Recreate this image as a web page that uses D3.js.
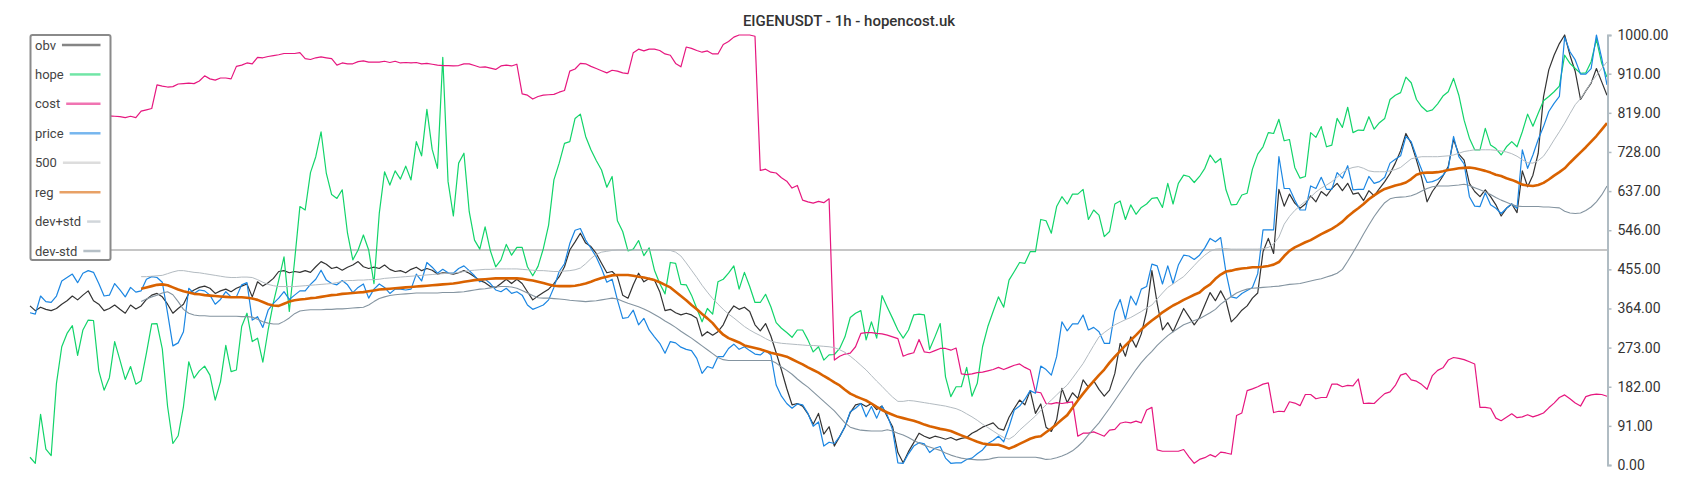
<!DOCTYPE html>
<html><head><meta charset="utf-8">
<script src="https://cdn.jsdelivr.net/npm/d3@7"></script>
<style>
body{margin:0;background:#fff;}
svg{display:block;font-family:Roboto,"Noto Sans",sans-serif;}
</style>
</head><body>
<svg id="chart" width="1700" height="500"></svg>
<script>
const title = "EIGENUSDT - 1h - hopencost.uk";
const seriesNames = ["obv","hope","cost","price","500","reg","dev+std","dev-std"];
const seriesColors = ["#333333","#12d46a","#e6177f","#1b86e2","#c6c6c6","#d96200","#b3bbc1","#8494a0"];
const tickValues = [0,91,182,273,364,455,546,637,728,819,910,1000];

const obv = [
370,359,367,362,359,364,374,382,393,384,
395,405,382,374,359,364,372,362,353,372,
363,370,385,395,399,391,374,353,364,374,
399,407,413,416,411,399,405,409,403,411,
416,421,391,426,416,424,434,450,452,447,
450,448,452,448,461,473,467,457,460,453,
460,465,473,461,457,460,457,465,455,450,
452,447,455,460,452,457,453,444,447,446,
444,447,452,446,438,429,424,415,413,422,
432,422,432,422,403,384,393,401,409,422,
438,461,500,519,539,516,508,492,469,447,
450,438,395,388,419,446,426,434,430,403,
359,362,354,349,353,349,341,300,310,302,
310,326,353,370,362,367,357,326,312,329,
300,261,221,178,140,143,137,119,95,120,
72,89,44,66,89,122,140,143,136,143,
129,137,112,89,29,5,31,52,74,67,
62,67,64,60,64,58,62,64,74,80,
88,93,98,85,81,111,132,151,140,173,
120,142,88,78,105,178,145,168,155,198,
181,196,176,160,174,213,283,253,298,274,
305,357,452,376,314,331,310,337,364,345,
326,343,372,401,382,405,382,333,345,360,
370,388,400,496,527,492,641,602,630,609,
597,607,626,612,636,626,643,655,638,655,
630,633,615,638,626,643,659,678,702,731,
771,748,709,667,612,636,653,672,694,757,
723,709,655,636,624,640,624,605,579,597,
607,587,684,647,674,725,856,919,953,980,
1000,953,915,850,870,888,922,891,860];

const hope = [
18,4,118,37,22,190,275,306,324,255,
314,337,336,219,174,203,287,244,199,229,
188,196,260,328,329,270,136,50,68,136,
240,202,219,230,209,151,194,278,217,221,
322,353,287,295,239,314,378,430,484,357,
475,601,593,680,717,775,678,629,620,640,
539,477,500,535,500,422,585,682,651,684,
665,695,663,752,719,827,734,690,948,659,
579,702,725,589,523,502,554,498,461,477,
513,488,506,506,461,440,462,503,558,663,
702,748,752,806,816,764,733,708,686,646,
671,568,543,498,502,522,487,505,453,422,
398,471,469,420,419,395,364,333,364,351,
426,432,446,463,409,448,415,378,378,397,
368,331,318,308,297,314,314,291,263,275,
244,256,257,271,298,343,353,359,291,333,
295,394,367,341,314,295,314,349,351,349,
269,298,329,205,159,182,182,227,160,190,
275,322,357,391,367,430,450,471,469,496,
496,571,568,539,601,624,607,630,630,641,
571,593,581,531,543,607,614,571,605,583,
599,607,620,622,599,655,607,655,674,671,
657,671,690,721,703,713,640,605,606,628,
632,688,723,740,773,771,804,754,757,692,
667,671,773,762,787,740,744,806,785,832,
773,779,778,810,781,796,806,850,860,866,
902,889,850,833,822,826,840,858,868,899,
860,802,760,733,733,783,744,736,721,740,
752,740,775,816,788,818,847,857,868,881,
953,934,922,911,912,938,990,934,902];

const cost = [
810,812,809,811,808,810,813,811,809,812,
810,808,811,813,810,812,811,810,808,811,
808,823,826,829,884,881,879,880,886,887,
888,887,893,905,898,895,900,900,898,927,
930,935,933,948,947,950,952,954,957,957,
957,959,945,943,947,949,947,945,930,935,
933,933,938,940,937,937,937,939,936,939,
935,936,935,936,933,934,932,930,929,929,
928,929,933,933,929,925,926,923,920,928,
930,928,932,863,860,851,857,860,861,862,
867,871,916,921,934,933,927,922,917,912,
918,916,912,910,959,967,963,967,967,964,
956,953,934,926,972,969,964,960,963,956,
956,978,985,995,1000,1000,1000,997,685,688,
681,679,668,660,644,650,616,612,609,613,
610,619,244,253,258,260,275,306,308,308,
306,305,302,298,294,253,258,261,292,263,
261,266,271,271,267,272,212,210,212,215,
216,219,222,227,222,227,232,235,227,221,
170,168,143,142,145,143,145,147,67,74,
74,77,72,67,81,83,97,100,98,102,
98,128,134,35,32,32,32,32,36,19,
4,13,17,24,19,30,28,25,115,121,
173,177,182,188,191,122,125,124,147,144,
138,164,164,154,157,157,188,188,182,185,
184,200,143,144,143,155,166,170,185,209,
213,198,195,187,176,208,220,226,244,250,
248,245,240,235,134,134,132,109,103,111,
119,110,112,117,112,116,121,133,144,157,
163,154,144,137,159,163,165,164,160];

const price = [
354,351,393,380,378,393,428,436,444,424,
446,452,448,422,393,395,422,407,391,413,
402,405,432,438,436,425,353,277,284,310,
411,399,407,405,395,374,385,403,391,391,
419,424,337,345,320,360,376,388,403,385,
395,405,405,420,432,453,430,422,419,429,
419,401,413,421,388,409,421,413,399,409,
409,407,409,444,428,471,460,446,455,447,
446,457,463,452,440,426,432,422,407,403,
411,399,403,395,372,362,367,372,384,413,
450,468,515,546,550,523,504,484,457,425,
432,384,341,343,360,326,341,314,298,283,
260,287,284,274,269,266,248,213,229,225,
252,252,271,281,269,275,266,258,256,266,
256,186,160,143,132,142,140,120,90,100,
44,53,50,66,89,124,132,143,112,136,
109,137,116,81,5,4,26,44,52,49,
29,39,43,16,4,5,5,13,16,26,
35,50,57,67,54,89,128,137,153,173,
167,230,222,209,252,333,312,328,328,349,
314,320,310,283,283,357,385,339,393,372,
409,415,467,463,421,463,422,465,488,486,
478,488,505,527,519,529,448,391,388,399,
406,413,445,547,547,547,717,643,643,616,
593,593,649,643,669,641,641,680,667,696,
640,641,641,671,655,659,669,702,711,719,
764,752,717,686,657,659,664,674,690,764,
717,700,624,602,601,633,605,597,585,597,
607,597,733,690,721,757,787,822,841,857,
995,961,942,909,909,922,1000,946,884];

const level500 = [500];

// reg / dev bands begin at this point index
const bandStart = 21;

const reg = [
410,413,416,419,420,418,413,408,404,401,
398,397,395,394,393,392,391,390,390,390,
389,387,384,379,374,371,370,375,380,383,
385,386,388,389,391,393,395,396,398,399,
400,401,402,404,406,408,409,410,411,412,
413,414,415,416,417,418,419,420,421,422,
424,426,428,430,431,432,433,434,434,434,
434,434,433,431,429,426,423,420,417,416,
416,416,417,419,422,426,431,435,438,441,
442,442,442,440,438,436,433,430,425,419,
413,403,393,383,372,362,351,341,330,315,
303,295,290,285,278,275,272,269,265,261,
258,255,252,246,240,234,227,221,215,207,
200,192,185,175,166,160,155,150,143,135,
128,122,117,112,109,106,103,99,94,90,
87,84,82,79,74,69,64,59,54,50,
48,47,47,43,38,43,49,55,61,65,
67,76,85,95,106,116,133,150,166,181,
195,209,222,238,252,265,278,290,302,315,
326,336,345,355,363,371,377,384,390,396,
401,412,420,433,443,450,452,455,457,458,
460,460,461,463,466,472,486,498,506,512,
518,523,530,537,543,549,557,566,578,588,
597,607,618,627,635,642,646,650,653,657,
665,675,679,680,680,681,683,686,688,690,
691,692,690,687,684,680,675,672,667,663,
658,652,650,649,651,656,664,673,681,690,
703,715,727,739,752,765,780,795];

const devPlus = [
438,438,439,440,441,445,449,452,452,450,
448,447,445,443,441,439,437,436,436,437,
437,436,431,425,420,417,415,415,415,415,
416,417,418,419,420,421,422,424,427,429,
429,430,430,431,431,432,434,435,436,437,
438,439,440,441,442,443,444,445,446,446,
448,450,452,453,454,455,455,456,456,456,
456,456,455,454,453,452,452,451,450,450,
451,452,454,458,468,480,490,495,497,499,
500,500,500,500,500,500,500,500,500,500,
499,495,486,470,453,436,418,402,387,374,
362,351,342,332,322,314,307,301,294,288,
285,283,282,281,280,279,278,278,277,276,
275,273,268,262,253,243,232,221,208,195,
183,170,158,148,148,150,149,147,145,143,
141,139,137,134,131,126,119,112,104,95,
87,79,71,64,60,68,81,92,103,114,
127,140,151,163,175,186,202,219,236,257,
278,298,308,317,326,332,338,343,350,357,
365,372,386,400,413,421,430,438,451,464,
477,488,497,502,503,503,502,502,502,502,
502,502,503,506,514,530,560,578,592,603,
613,623,635,644,651,659,669,680,688,692,
694,690,684,682,682,682,684,687,692,702,
712,715,717,717,717,717,718,719,721,725,
729,731,733,733,733,733,732,730,728,724,
718,710,703,702,708,718,736,756,775,795,
817,838,852,870,890,906,922,938];

const devMinus = [
380,386,391,395,400,403,396,380,362,353,
349,347,347,346,346,346,346,346,346,345,
345,344,339,333,330,328,328,334,342,352,
358,360,361,361,361,362,362,363,363,364,
365,366,367,372,380,387,391,394,396,397,
398,399,400,400,400,400,400,401,401,401,
402,403,405,407,409,410,412,414,415,415,
414,411,406,400,394,389,388,388,387,386,
385,383,382,381,380,381,382,384,386,388,
386,381,376,372,368,363,357,350,343,335,
328,320,311,303,295,286,277,268,259,250,
245,243,243,243,243,243,243,243,243,243,
237,228,220,211,200,190,181,170,159,148,
137,126,112,98,88,84,81,80,79,79,
79,82,79,74,70,64,57,51,46,42,
38,34,28,23,19,16,14,13,12,12,
13,16,18,18,18,18,18,18,18,18,
16,13,14,17,21,26,33,43,55,70,
84,98,115,132,150,168,186,204,222,238,
252,264,278,290,301,310,318,326,331,336,
340,347,354,362,374,383,392,400,405,409,
411,412,413,414,415,416,418,420,421,422,
425,428,431,433,437,441,446,455,474,494,
515,537,558,578,595,610,619,622,623,624,
626,631,637,643,647,649,649,649,650,651,
653,650,645,640,635,629,622,616,611,606,
602,601,601,601,601,600,600,599,598,590,
586,585,586,592,600,612,628,649];

const svg = d3.select("#chart");
const N = obv.length;
const x = d3.scaleLinear().domain([0, N - 1]).range([30, 1607]);
const y = d3.scaleLinear().domain([0, 1000]).range([465, 35]);

const fullLine = d3.line().x((d, i) => x(i)).y(d => y(d));
const bandLine = d3.line().x((d, i) => x(i + bandStart)).y(d => y(d));

const plot = svg.append("g");
const widths = [1.2, 1.2, 1.2, 1.2, 2, 2.6, 1, 1.1];

// 500 reference line
plot.append("line")
  .attr("x1", x(0)).attr("x2", x(N - 1))
  .attr("y1", y(level500[0])).attr("y2", y(level500[0]))
  .attr("stroke", seriesColors[4]).attr("stroke-width", widths[4]);

const drawn = [
  [obv, fullLine, 0], [hope, fullLine, 1], [cost, fullLine, 2], [price, fullLine, 3],
  [reg, bandLine, 5], [devPlus, bandLine, 6], [devMinus, bandLine, 7]
];
drawn.forEach(([data, gen, k]) => {
  plot.append("path").datum(data)
    .attr("d", gen)
    .attr("fill", "none")
    .attr("stroke", seriesColors[k])
    .attr("stroke-width", widths[k])
    .attr("stroke-linejoin", "round");
});

// right axis
const axis = svg.append("g")
  .attr("transform", "translate(1607.5,0)")
  .call(d3.axisRight(y).tickValues(tickValues).tickFormat(d3.format(".2f")).tickSize(4).tickPadding(6));
axis.select(".domain").attr("stroke", "#b0bcc3").attr("stroke-width", 2);
axis.selectAll(".tick line").attr("stroke", "#b0bcc3").attr("stroke-width", 1.5);
axis.selectAll(".tick text").attr("fill", "#333").style("font-size", "14px").style("font-family", "Roboto");

// title
svg.append("text").attr("x", 849).attr("y", 26).attr("text-anchor", "middle")
  .style("font-size", "15px").style("font-weight", 500).attr("fill", "#333").text(title);

// legend
const lg = svg.append("g");
lg.append("rect").attr("x", 30.5).attr("y", 35).attr("width", 80).attr("height", 225)
  .attr("rx", 2).attr("fill", "#fff").attr("stroke", "#8a8a8a").attr("stroke-width", 2);
seriesNames.forEach((name, k) => {
  const yy = 45 + k * 29.43;
  const t = lg.append("text").attr("x", 35).attr("y", yy).attr("dy", "0.35em")
    .style("font-size", "13px").attr("fill", "#444").text(name);
  const w = t.node().getComputedTextLength();
  lg.append("line").attr("x1", 35 + w + 6).attr("x2", 100.5).attr("y1", yy).attr("y2", yy)
    .attr("stroke", seriesColors[k]).attr("stroke-opacity", 0.6).attr("stroke-width", 2.5);
});
</script>
</body></html>
